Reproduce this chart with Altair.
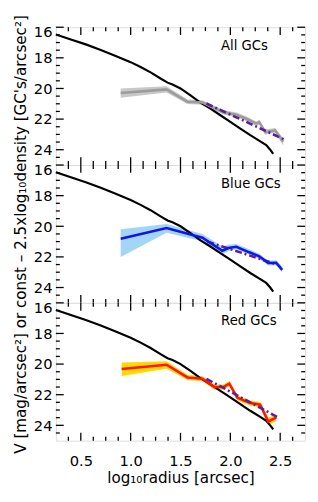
import altair as alt
import pandas as pd

# ---------------- data ----------------
# galaxy V-band surface brightness profile (black line, same in every panel)
gal_x = [0.25, 0.40, 0.55, 0.70, 0.85, 1.00, 1.10, 1.20, 1.30, 1.37, 1.42, 1.50,
         1.60, 1.70, 1.80, 1.90, 2.00, 2.10, 2.20, 2.30, 2.36, 2.40, 2.43]
gal_v = [16.47, 16.80, 17.12, 17.48, 17.88, 18.28, 18.60, 18.95, 19.35, 19.62, 19.74, 20.00,
         20.45, 20.92, 21.32, 21.75, 22.18, 22.62, 23.05, 23.45, 23.70, 24.00, 24.27]

# All GCs
all_x  = [0.90, 1.36, 1.57, 1.72, 1.93, 2.06, 2.16, 2.26, 2.29, 2.35, 2.45, 2.53]
all_y  = [20.30, 20.06, 20.87, 20.92, 21.55, 21.72, 21.98, 22.30, 22.20, 22.85, 22.74, 23.48]
all_hi = [20.00, 19.86, 20.72, 20.77, 21.40, 21.57, 21.83, 22.15, 22.05, 22.68, 22.58, 23.25]
all_lo = [20.60, 20.26, 21.02, 21.07, 21.70, 21.87, 22.13, 22.45, 22.35, 23.02, 22.90, 23.72]

# Blue GCs
blue_x  = [0.90, 1.36, 1.72, 1.92, 1.98, 2.06, 2.19, 2.29, 2.38, 2.46, 2.52]
blue_y  = [20.81, 20.11, 20.75, 21.60, 21.42, 21.34, 21.70, 21.96, 22.40, 22.38, 22.85]
blue_hi = [20.20, 19.85, 20.50, 21.32, 21.20, 21.15, 21.50, 21.80, 22.25, 22.22, 22.65]
blue_lo = [22.00, 20.42, 20.97, 21.85, 21.62, 21.50, 21.86, 22.12, 22.56, 22.55, 23.02]

# Red GCs
red_x  = [0.91, 1.36, 1.57, 1.72, 1.84, 1.93, 1.99, 2.07, 2.20, 2.30, 2.38, 2.46]
red_y  = [20.32, 20.04, 20.87, 20.96, 21.50, 21.50, 21.28, 22.20, 22.55, 22.65, 23.75, 23.50]
red_hi = [19.90, 19.82, 20.70, 20.80, 21.33, 21.33, 21.10, 22.02, 22.38, 22.47, 23.50, 23.30]
red_lo = [20.78, 20.30, 21.04, 21.12, 21.67, 21.67, 21.46, 22.38, 22.72, 22.83, 24.00, 23.72]

# power-law fits (dash-dot)
fit_all_x,  fit_all_y  = [1.76, 2.54], [20.98, 23.33]
fit_blue_x, fit_blue_y = [1.77, 2.47], [21.00, 22.50]
fit_red_x,  fit_red_y  = [1.76, 2.47], [20.96, 23.45]

panel_labels = ["All GCs", "Blue GCs", "Red GCs"]

x_major = [0.5, 1.0, 1.5, 2.0, 2.5]
x_minor = [0.375, 0.625, 0.75, 0.875, 1.125, 1.25, 1.375, 1.625, 1.75, 1.875,
           2.125, 2.25, 2.375, 2.625]
y_major = [16, 18, 20, 22, 24]
y_minor = [16.5, 17, 17.5, 18.5, 19, 19.5, 20.5, 21, 21.5, 22.5, 23, 23.5, 24.5]

x_title = "log₁₀radius [arcsec]"
y_title = "V [mag/arcsec²] or const – 2.5xlog₁₀density [GC's/arcsec²]"

# ---------------- chart ----------------
W, H = 255, 141
FONT = "DejaVu Sans"
xscale = alt.Scale(domain=[0.25, 2.75], nice=False, zero=False)
yscale = alt.Scale(domain=[16, 25], reverse=True, nice=False, zero=False)


def panel(px, py, phi, plo, fx, fy, line_color, band_color, label, idx):
    show_x = idx == 2
    xaxis = alt.Axis(
        values=x_major, format=".1f", ticks=False, tickSize=0, domain=False, grid=False,
        labels=show_x, labelFont=FONT, labelFontSize=15, labelColor="black", labelPadding=13,
        title=x_title if show_x else None, titleFont=FONT, titleFontSize=15.5,
        titleFontWeight="normal", titleColor="black", titlePadding=3,
    )
    yaxis = alt.Axis(
        values=y_major, format="d", ticks=False, tickSize=0, domain=False, grid=False,
        labelFont=FONT, labelFontSize=15, labelColor="black", labelPadding=4,
        labelOffset={"condition": {"test": "datum.value == 16", "value": 5}, "value": 0},
        title=y_title if idx == 1 else None, titleFont=FONT, titleFontSize=15.5,
        titleFontWeight="normal", titleColor="black", titlePadding=5,
    )
    X = alt.X("x:Q", scale=xscale, axis=xaxis)
    Y = alt.Y("y:Q", scale=yscale, axis=yaxis)

    gc = pd.DataFrame({"x": px, "y": py, "hi": phi, "lo": plo})
    gal = pd.DataFrame({"x": gal_x, "y": gal_v})
    fit = pd.DataFrame({"x": fx, "y": fy})

    band = alt.Chart(gc).mark_area(color=band_color, opacity=1).encode(
        x=X, y=alt.Y("hi:Q", scale=yscale, axis=yaxis), y2="lo:Q")
    black = alt.Chart(gal).mark_line(color="black", strokeWidth=2.2).encode(x=X, y=Y)
    gline = alt.Chart(gc).mark_line(color=line_color, strokeWidth=2.6).encode(x=X, y=Y)
    fline = alt.Chart(fit).mark_line(color="#5b1f9e", strokeWidth=2.6,
                                     strokeDash=[7, 3, 2, 3]).encode(x=X, y=Y)

    ticks = []
    for vals, L in ((x_major, 8), (x_minor, 4)):
        d = pd.DataFrame({"x": vals})
        base = alt.Chart(d).mark_rule(color="black", strokeWidth=1.3)
        ticks.append(base.encode(x=X, y=alt.value(H), y2=alt.value(H - L)))
        ticks.append(base.encode(x=X, y=alt.value(0), y2=alt.value(L)))
    for vals, L in ((y_major, 8), (y_minor, 4)):
        d = pd.DataFrame({"y": vals})
        base = alt.Chart(d).mark_rule(color="black", strokeWidth=1.3)
        ticks.append(base.encode(y=Y, x=alt.value(0), x2=alt.value(L)))
        ticks.append(base.encode(y=Y, x=alt.value(W), x2=alt.value(W - L)))

    txt = alt.Chart(pd.DataFrame({"label": [label]})).mark_text(
        align="left", baseline="middle", font=FONT, fontSize=13.5, color="black"
    ).encode(x=alt.value(169), y=alt.value(19), text="label:N")

    if idx == 1:
        layers = [band, black, fline, gline]
    else:
        layers = [band, black, gline, fline]
    return alt.layer(*layers, *ticks, txt).properties(width=W, height=H)


p1 = panel(all_x, all_y, all_hi, all_lo, fit_all_x, fit_all_y,
           "#9c9c9c", "#c8c8c8", panel_labels[0], 0)
p2 = panel(blue_x, blue_y, blue_hi, blue_lo, fit_blue_x, fit_blue_y,
           "#1414e6", "#a3d5f7", panel_labels[1], 1)
p3 = panel(red_x, red_y, red_hi, red_lo, fit_red_x, fit_red_y,
           "#ff1414", "#ffd900", panel_labels[2], 2)

chart = alt.vconcat(p1, p2, p3, spacing=0, bounds="flush").properties(
    padding={"left": 5, "top": 0, "right": 3, "bottom": 5}
).configure_view(
    stroke="black", strokeWidth=1.5
).configure(background="white", font=FONT)

chart.save("out.html", embed_options={"renderer": "svg", "actions": False})
